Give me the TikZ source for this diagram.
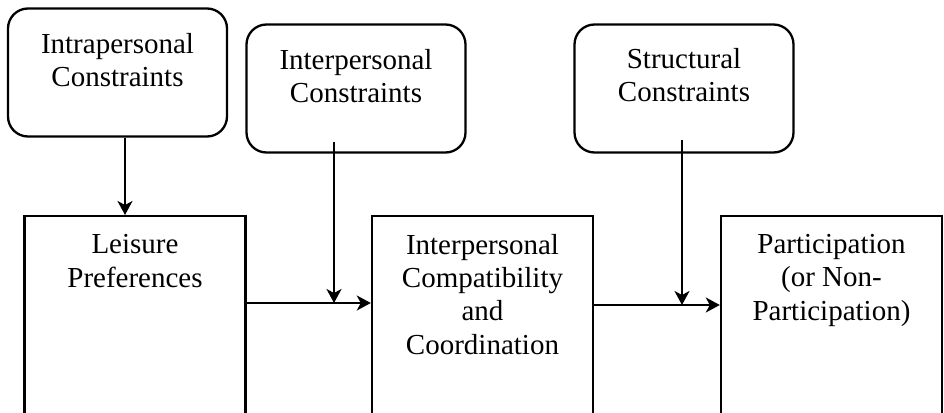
\documentclass[tikz,border=0pt]{standalone}
\usepackage{fontspec}
\setmainfont{Liberation Serif}
\usetikzlibrary{arrows.meta,positioning}

\begin{document}
\begin{tikzpicture}[x=1pt,y=-1pt]
		\tikzstyle{Constraint} 	= [draw, rounded corners=20pt, line width=2.3pt, minimum width=219pt, minimum height=128pt, inner sep=0pt]
		\tikzstyle{Stage}	= [draw, line width=2.4pt, minimum width=221pt, minimum height=240pt, inner sep=0pt, anchor=north]
		\tikzstyle{Label}	= [align=center, inner sep=0pt, anchor=base, font=\fontsize{29}{33.3}\selectfont]
		\tikzstyle{Flow}	= [-{Stealth[length=14pt,width=15pt,inset=4pt]}, line width=2pt]

		\clip (0,0) rectangle (944,412);

		\node (intra) at (117.5, 72.5) [Constraint]{};
		\node (inter) at (356, 88.5) [Constraint]{};
		\node (struct) at (684, 88.5) [Constraint]{};
		\node (leisure) at (135, 215) [Stage]{};
		\node (compat) at (482.5, 215) [Stage]{};
		\node (partic) at (831.5, 215) [Stage]{};

		% base of a label is the base of its last line
		\node (intraT) at ([yshift=-79pt]intra.north) [Label]{Intrapersonal\\Constraints};
		\node (interT) at ([yshift=-79pt]inter.north) [Label]{Interpersonal\\Constraints};
		\node (structT) at ([yshift=-78pt]struct.north) [Label]{Structural\\Constraints};
		\node (leisureT) at ([yshift=-72pt]leisure.north) [Label]{Leisure\\Preferences};
		\node (compatT) at ([yshift=-139pt]compat.north) [Label]{Interpersonal\\Compatibility\\and\\Coordination};
		\node (particT) at ([yshift=-105pt]partic.north) [Label]{Participation\\(or Non-\\Participation)};

		% junctions on the flow lines
		\coordinate (j1) at (334, 303);
		\coordinate (j2) at (682, 305);
		\path (inter.south -| j1) ++(0,-12) coordinate (s2);
		\path (struct.south -| j2) ++(0,-14) coordinate (s3);
		\path (intra.south) ++(7.5,0) coordinate (s1);

		\draw [Flow] (s1) -- (s1 |- leisure.north);
		\draw [Flow] (s2) -- (j1);
		\draw [Flow] (s3) -- (j2);
		\draw [Flow] (j1 -| leisure.east) -- (j1 -| compat.west);
		\draw [Flow] (j2 -| compat.east) -- (j2 -| partic.west);
	\end{tikzpicture}
\end{document}
